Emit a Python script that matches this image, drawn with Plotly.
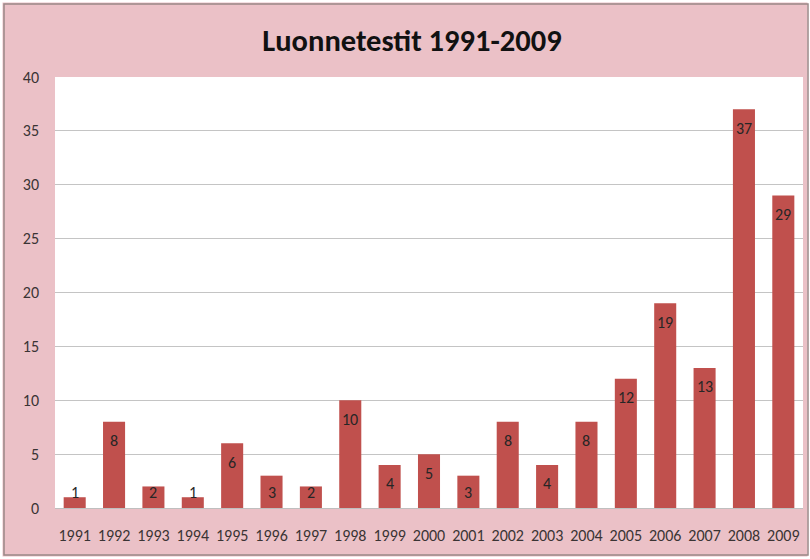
import plotly.graph_objects as go

years = ["1991","1992","1993","1994","1995","1996","1997","1998","1999","2000",
         "2001","2002","2003","2004","2005","2006","2007","2008","2009"]
counts = [1, 8, 2, 1, 6, 3, 2, 10, 4, 5, 3, 8, 4, 8, 12, 19, 13, 37, 29]
title = "Luonnetestit 1991-2009"
yticks = [0, 5, 10, 15, 20, 25, 30, 35, 40]

W, H = 810, 559
L, R, T, B = 55, 7, 77, 51
FONT = "Calibri, Carlito, Lato, Open Sans, sans-serif"
TXT = "#3a3434"

fig = go.Figure()
fig.add_trace(go.Bar(x=years, y=counts, marker=dict(color="#c0504d", line=dict(width=0)),
                     hoverinfo="x+y"))

annotations = []
for i, v in enumerate(counts):
    if v >= 4:
        annotations.append(dict(x=i, y=v, xref="x", yref="y", text=str(v), showarrow=False,
                                yanchor="middle", yshift=-19,
                                font=dict(family=FONT, size=16, color="#262626")))
    else:
        annotations.append(dict(x=i, y=0, xref="x", yref="y", text=str(v), showarrow=False,
                                yanchor="middle", yshift=16,
                                font=dict(family=FONT, size=16, color="#262626")))

pw = W - L - R
ph = H - T - B
def px(xp):
    return (xp - L) / pw
def py(yp):
    return 1 - (yp - T) / ph

fig.update_layout(
    width=W, height=H,
    margin=dict(l=L, r=R, t=T, b=B, pad=0),
    paper_bgcolor="#ebc1c7",
    plot_bgcolor="#ffffff",
    bargap=0.44,
    showlegend=False,
    title=dict(text="<b>" + title + "</b>", x=412 / W, xanchor="center", y=1 - 40 / H, yanchor="middle",
               font=dict(family=FONT, size=30.5, color="#111111")),
    annotations=annotations,
    shapes=[
        dict(type="rect", xref="paper", yref="paper",
             x0=px(-1), x1=px(W + 1), y0=py(H + 1), y1=py(-1),
             line=dict(color="#ffffff", width=7), fillcolor="rgba(0,0,0,0)", layer="above"),
        dict(type="rect", xref="paper", yref="paper",
             x0=px(4), x1=px(808), y0=py(555), y1=py(4),
             line=dict(color="#9a8888", width=1.5), fillcolor="rgba(0,0,0,0)", layer="above"),
    ],
    xaxis=dict(type="category", range=[-0.5, len(years) - 0.5], showgrid=False, showline=True,
               linecolor="#bfbfbf", linewidth=1,
               ticks="", tickfont=dict(family=FONT, size=16, color=TXT),
               ticklabelstandoff=13, fixedrange=True),
    yaxis=dict(range=[0, 40], tickvals=yticks, showgrid=True, gridcolor="#c4c4c4", gridwidth=1,
               zeroline=False, showline=False, ticks="",
               tickfont=dict(family=FONT, size=16, color=TXT),
               ticklabelstandoff=15, fixedrange=True),
)

fig.write_html("out.html", config={"displayModeBar": False},
               post_script="document.body.style.margin='0';document.body.style.padding='0';")
